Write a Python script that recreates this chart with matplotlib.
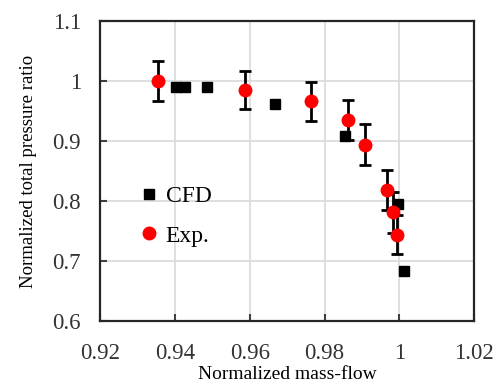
import numpy as np
import matplotlib
matplotlib.use('Agg')
import matplotlib.pyplot as plt

plt.rcParams['font.family'] = ['Liberation Serif', 'DejaVu Serif']

# CFD results
cfd_flow = [0.9401, 0.9425, 0.9486, 0.9668, 0.9855, 0.9997, 1.0013]
cfd_ratio = [0.990, 0.990, 0.990, 0.961, 0.908, 0.795, 0.684]

# experiment with error bars
exp_flow = [0.9354, 0.9588, 0.9764, 0.9864, 0.9907, 0.9967, 0.9984, 0.9994]
exp_ratio = [1.000, 0.985, 0.966, 0.935, 0.894, 0.818, 0.781, 0.744]
exp_err = [0.033, 0.031, 0.033, 0.033, 0.034, 0.033, 0.034, 0.032]

fig = plt.figure(figsize=(4.97, 3.89), dpi=100)
ax = fig.add_axes([0.2022, 0.1748, 0.7515, 0.771])

ax.grid(True, color='#d9d9d9', linewidth=1.2, zorder=0)
ax.set_axisbelow(True)

ax.plot(cfd_flow, cfd_ratio, 's', color='black', markersize=7, label='CFD', zorder=3)
ax.errorbar(exp_flow, exp_ratio, yerr=exp_err, fmt='none', ecolor='black',
            elinewidth=2, capsize=4, capthick=2, zorder=4)
ax.plot(exp_flow, exp_ratio, 'o', color='red', markersize=9, label='Exp.', zorder=5)

ax.set_xlim(0.92, 1.02)
ax.set_ylim(0.6, 1.1)
ax.set_xticks([0.92, 0.94, 0.96, 0.98, 1.0, 1.02])
ax.set_xticklabels(['0.92', '0.94', '0.96', '0.98', '1', '1.02'])
ax.set_yticks([0.6, 0.7, 0.8, 0.9, 1.0, 1.1])
ax.set_yticklabels(['0.6', '0.7', '0.8', '0.9', '1', '1.1'])
ax.tick_params(direction='in', length=5, width=1.5, labelsize=16.5, colors='#404040',
               labelcolor='#333333')
ax.tick_params(axis='x', pad=16)
ax.tick_params(axis='y', pad=14)

for s in ax.spines.values():
    s.set_linewidth(1.6)
    s.set_color('#262626')

ax.set_xlabel('Normalized mass-flow', fontsize=14, labelpad=1)
ax.set_ylabel('Normalized total pressure ratio', fontsize=13.5, labelpad=11)

ax.legend(loc='upper left', bbox_to_anchor=(0.08, 0.49), frameon=False, fontsize=17,
          handlelength=0.6, handletextpad=0.4, labelspacing=0.75, borderpad=0)

fig.savefig('out.png', dpi=100)
